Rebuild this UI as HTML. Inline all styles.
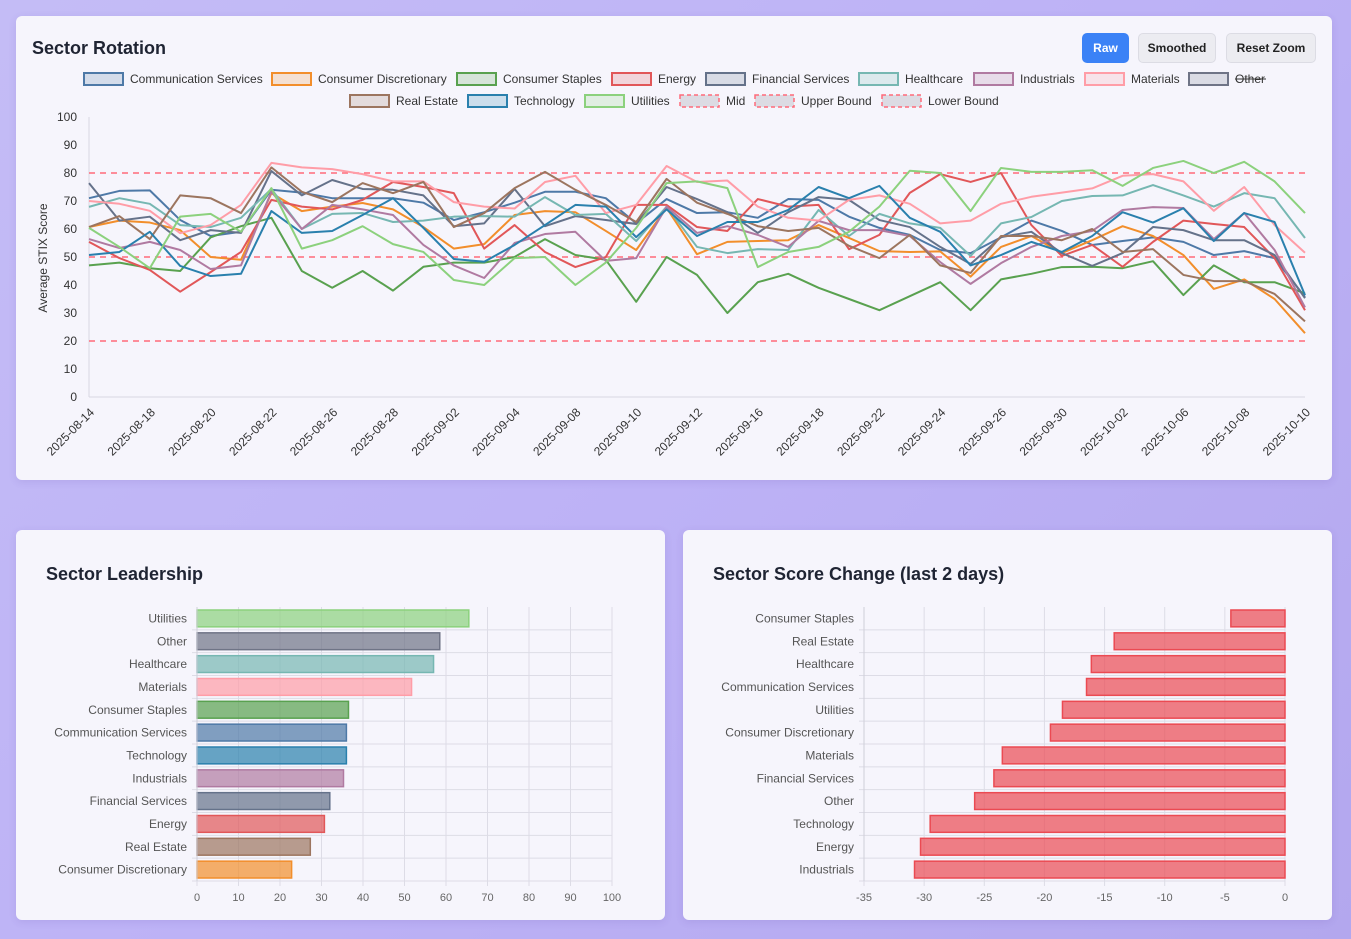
<!DOCTYPE html>
<html><head><meta charset="utf-8">
<style>
body{margin:0;width:1351px;height:939px;overflow:hidden;font-family:"Liberation Sans",sans-serif;background:linear-gradient(135deg,#c4bcf6 0%,#bdb2f6 50%,#b3a7ee 100%);position:relative}
.card{position:absolute;background:#f6f5fc;border-radius:6px;box-shadow:0 2px 8px rgba(80,60,160,0.12)}
.title{position:absolute;font-weight:bold;font-size:18px;color:#1f2433}
.btn{position:absolute;top:33px;height:30px;border-radius:5px;font-size:12px;font-weight:bold;display:flex;align-items:center;justify-content:center;box-sizing:border-box}
svg{position:absolute;left:0;top:0}
svg text{font-family:"Liberation Sans",sans-serif}
</style></head><body>
<div class="card" style="left:16px;top:16px;width:1316px;height:464px"></div>
<div class="card" style="left:16px;top:530px;width:649px;height:390px"></div>
<div class="card" style="left:683px;top:530px;width:649px;height:390px"></div>
<div class="title" style="left:32px;top:38px">Sector Rotation</div>
<div class="title" style="left:46px;top:564px">Sector Leadership</div>
<div class="title" style="left:713px;top:564px">Sector Score Change (last 2 days)</div>
<div class="btn" style="left:1082px;width:47px;background:#3b82f6;color:#fff">Raw</div>
<div class="btn" style="left:1138px;width:78px;background:#ececf1;border:1px solid #dcdce4;color:#222">Smoothed</div>
<div class="btn" style="left:1226px;width:90px;background:#ececf1;border:1px solid #dcdce4;color:#222">Reset Zoom</div>
<svg id="s" width="1351" height="939"></svg>
<script>
const dates=["2025-08-14","2025-08-15","2025-08-18","2025-08-19","2025-08-20","2025-08-21","2025-08-22","2025-08-25","2025-08-26","2025-08-27","2025-08-28","2025-08-29","2025-09-02","2025-09-03","2025-09-04","2025-09-05","2025-09-08","2025-09-09","2025-09-10","2025-09-11","2025-09-12","2025-09-15","2025-09-16","2025-09-17","2025-09-18","2025-09-19","2025-09-22","2025-09-23","2025-09-24","2025-09-25","2025-09-26","2025-09-29","2025-09-30","2025-10-01","2025-10-02","2025-10-03","2025-10-06","2025-10-07","2025-10-08","2025-10-09","2025-10-10"];
const yTicks=[0,10,20,30,40,50,60,70,80,90,100];
const bounds=[20,50,80];
const commServices=[71,73.6,73.8,63.2,57.5,59,74,73,71,71,71,69.4,63.2,66,69.4,73.3,73.3,71,62,70.7,65.7,66,64,70.7,70.4,64.4,60.4,57.9,52.5,51.4,57,63,59.3,54.3,55.7,57,55.4,50.7,52.1,49.6,35.7];
const consDisc=[60.7,63,62.3,59.6,50,49,72.8,66.4,68,69.3,67,60.7,53,54.6,65,66.4,66,59.3,52.5,67.5,51,55.4,55.7,56,61.4,56.8,52.1,51.8,52,43,53.6,57.5,51.4,56,61,57.5,50.7,38.6,42,35,22.8];
const consStaples=[47,48,46,45,57,61,64,45,39,45,38,46.5,48,48,50,56.4,50.7,49,34,50,43.6,30,41,44,39,35,31,36,41,31,42,44,46.4,46.5,46,48.5,36.4,47,41,41,37];
const energy=[55.4,49.6,45.4,37.6,44.6,51.8,70.4,68,67,70.4,76.8,75,72.8,53,61.4,51.8,46.4,50,68.6,68.6,60.7,59.3,70.7,68,68.6,52.8,57.9,72.9,79.6,76.8,80,61.4,50.4,54.3,46.5,55.4,63,61.8,60.7,49.6,31];
const financial=[76.4,63,64.4,56,59.6,58.6,80.7,72,77.5,74.3,74,72,61,62,74.3,61,64.6,63.2,61.8,75,70.7,66,58.6,66,71.4,70.4,63.2,60.7,53.6,47.5,57.1,59,51.4,46.8,51.4,60.7,59.6,56,56,50.7,35.3];
const healthcare=[67.9,71,69,61.4,60.7,64,74.3,60,65.4,65.7,62.5,63,64.4,64.6,64.4,71.4,65,65.4,55.7,68,53.6,51.4,52.8,52.5,66.8,57.5,65.4,62,60.4,50.4,62,64.3,70,71.8,72,75.7,72,68,72.8,71,56.8];
const industrials=[56.4,53.2,55.4,52.5,45.7,47,73.3,60,68.6,67,65,54.3,47,42.5,55,58.2,59,48.6,49.6,68,58.6,61,57.9,53.6,62.9,59.6,59.6,57.5,48.2,40.4,47.8,53.6,57.5,59.3,66.8,67.8,67.5,56.4,65.7,52.5,32];
const materials=[70,69,66.5,58.5,61.4,68.6,83.6,82,81.4,79.6,77,77,69.6,68,67.3,76.8,79,65.7,68.6,82.5,76.8,77.3,68,64,63,70.4,72,69,62,63,69,71.5,73,74.5,79,79.6,77,66.5,75,61.4,51.5];
const realEstate=[60.7,64.6,56.4,72,71,65.7,82,73.3,69.6,76.4,72.8,76.8,60.7,65.7,74.6,80.4,74,68.6,62.5,77.9,69.4,65.4,61,59.3,60.4,54,49.6,57.9,47,44.3,57.5,57.5,56,60,51.8,52.8,43.6,41.4,41.4,36.8,27];
const technology=[50.7,51.8,59,46.8,43.2,44,66.4,58.6,59.3,65,71,60.4,49.3,48.3,54.3,61.4,68.6,68,57.1,67,57.5,62.5,62.5,66.8,75,71,75.4,64,59,47,50.7,55.4,51.8,57.5,66,62.3,67.4,55.7,65.7,62.5,36.4];
const utilities=[60.4,53.6,46,64.4,65.4,59,74.6,53,56,61,54.6,51.8,41.8,40,49.6,50,40,48,60.4,76.4,77,74.6,46.4,51.8,53.6,59,68,80.8,80,66.4,81.8,80.4,80.4,81,75.4,81.8,84.3,80,84,77,65.7];
const series=[
 ["Communication Services",commServices,"#4e79a7"],["Consumer Discretionary",consDisc,"#f28e2b"],["Consumer Staples",consStaples,"#59a14f"],["Energy",energy,"#e15759"],["Financial Services",financial,"#65728a"],["Healthcare",healthcare,"#76b7b2"],["Industrials",industrials,"#b07aa1"],["Materials",materials,"#ff9da7"],["Real Estate",realEstate,"#9c755f"],["Technology",technology,"#2a80ad"],["Utilities",utilities,"#8cd17d"]];
const leadCats=["Utilities","Other","Healthcare","Materials","Consumer Staples","Communication Services","Technology","Industrials","Financial Services","Energy","Real Estate","Consumer Discretionary"];
const leadVals=[65.5,58.5,57,51.7,36.5,36,36,35.3,32,30.7,27.3,22.8];
const leadColors=["#8cd17d","#6f7486","#76b7b2","#ff9da7","#59a14f","#4e79a7","#2a80ad","#b07aa1","#65728a","#e15759","#9c755f","#f28e2b"];
const leadTicks=[0,10,20,30,40,50,60,70,80,90,100];
const chgCats=["Consumer Staples","Real Estate","Healthcare","Communication Services","Utilities","Consumer Discretionary","Materials","Financial Services","Other","Technology","Energy","Industrials"];
const chgVals=[-4.5,-14.2,-16.1,-16.5,-18.5,-19.5,-23.5,-24.2,-25.8,-29.5,-30.3,-30.8];
const chgTicks=[-35,-30,-25,-20,-15,-10,-5,0];

const S=document.getElementById('s'),NS="http://www.w3.org/2000/svg";
function mk(t,a,p){const e=document.createElementNS(NS,t);for(const k in a)e.setAttribute(k,a[k]);(p||S).appendChild(e);return e;}
const X0=89,X1=1305,Y0=397,Y1=117;
const xs=i=>X0+(X1-X0)*i/(dates.length-1), ys=v=>Y0-(Y0-Y1)*v/100;
const g1=mk('g',{});


mk('line',{x1:X0,y1:Y1,x2:X0,y2:Y0,stroke:'#d8d8e2'},g1);
mk('line',{x1:X0,y1:Y0,x2:X1,y2:Y0,stroke:'#d8d8e2'},g1);
yTicks.forEach(v=>{const t=mk('text',{x:X0-12,y:ys(v)+4,'text-anchor':'end','font-size':12,fill:'#333'},g1);t.textContent=v;
});
dates.forEach((d,i)=>{if(i%2)return;const x=xs(i)+6,y=413;const t=mk('text',{x:x,y:y,'text-anchor':'end','font-size':12,fill:'#333',transform:`rotate(-45 ${x} ${y})`},g1);t.textContent=d;
});
const yl=mk('text',{x:47,y:258,'text-anchor':'middle','font-size':12,fill:'#333',transform:'rotate(-90 47 258)'},g1);yl.textContent='Average STIX Score';

bounds.forEach(b=>{const l=mk('line',{x1:X0,x2:X1,y1:ys(b),y2:ys(b),stroke:'#ff6b7a','stroke-width':1.5,'stroke-dasharray':'6 5'},g1);
});
series.forEach(s=>{const p=mk('polyline',{points:s[1].map((v,i)=>xs(i)+','+ys(v)).join(' '),fill:'none',stroke:s[2],'stroke-width':2,'stroke-linejoin':'round'},g1);
});
const leg=[["Communication Services",84,79,"#4e79a7"],["Consumer Discretionary",272,79,"#f28e2b"],["Consumer Staples",457,79,"#59a14f"],["Energy",612,79,"#e15759"],["Financial Services",706,79,"#65728a"],["Healthcare",859,79,"#76b7b2"],["Industrials",974,79,"#b07aa1"],["Materials",1085,79,"#ff9da7"],["Other",1189,79,"#6f7486"],["Real Estate",350,101,"#9c755f"],["Technology",468,101,"#2a80ad"],["Utilities",585,101,"#8cd17d"],["Mid",680,101,"d"],["Upper Bound",755,101,"d"],["Lower Bound",882,101,"d"]];
leg.forEach(l=>{const g=mk('g',{});
 if(l[3]==='d')mk('rect',{x:l[1],y:l[2]-6,width:39,height:12,fill:'#dcdbe3',stroke:'#ff6b7a','stroke-dasharray':'4 3','stroke-width':1.5},g);
 else mk('rect',{x:l[1],y:l[2]-6,width:39,height:12,fill:l[3],'fill-opacity':0.2,stroke:l[3],'stroke-width':2},g);
 const t=mk('text',{x:l[1]+46,y:l[2]+4,'font-size':12,fill:'#333'},g);t.textContent=l[0];
 if(l[0]==='Other')mk('line',{x1:l[1]+46,x2:l[1]+77,y1:l[2],y2:l[2],stroke:'#333'},g);});
function hbar(cats,vals,ticks,L,R,lo,hi,colorFn,name){
 const T=607,B=881,bh=(B-T)/cats.length,xv=v=>L+(R-L)*(v-lo)/(hi-lo);
 const g=mk('g',{});
 ticks.forEach(v=>{mk('line',{x1:xv(v),x2:xv(v),y1:T,y2:B+5,stroke:'#dddce6'},g);const t=mk('text',{x:xv(v),y:901,'text-anchor':'middle','font-size':11,fill:'#666'},g);t.textContent=v;
  });
 cats.forEach((c,i)=>{const y=T+i*bh;mk('line',{x1:L-5,x2:R,y1:y+bh,y2:y+bh,stroke:'#dddce6'},g);
  const t=mk('text',{x:L-10,y:y+bh/2+4,'text-anchor':'end','font-size':12,fill:'#555'},g);t.textContent=c;
  
  const a=xv(Math.min(0,vals[i])),b=xv(Math.max(0,vals[i]));const col=colorFn(i);
  const r=mk('rect',{x:a,y:y+3,width:b-a,height:bh-6,fill:col,'fill-opacity':0.7,stroke:col,'stroke-width':1.5},g);
  });
 mk('line',{x1:L,x2:L,y1:T,y2:B,stroke:'#cfcfd9'},g);
}
hbar(leadCats,leadVals,leadTicks,197,612,0,100,i=>leadColors[i],'leadership-chart');
hbar(chgCats,chgVals,chgTicks,864,1285,-35,0,i=>'#eb4a52','score-change-chart');
</script>
</body></html>
